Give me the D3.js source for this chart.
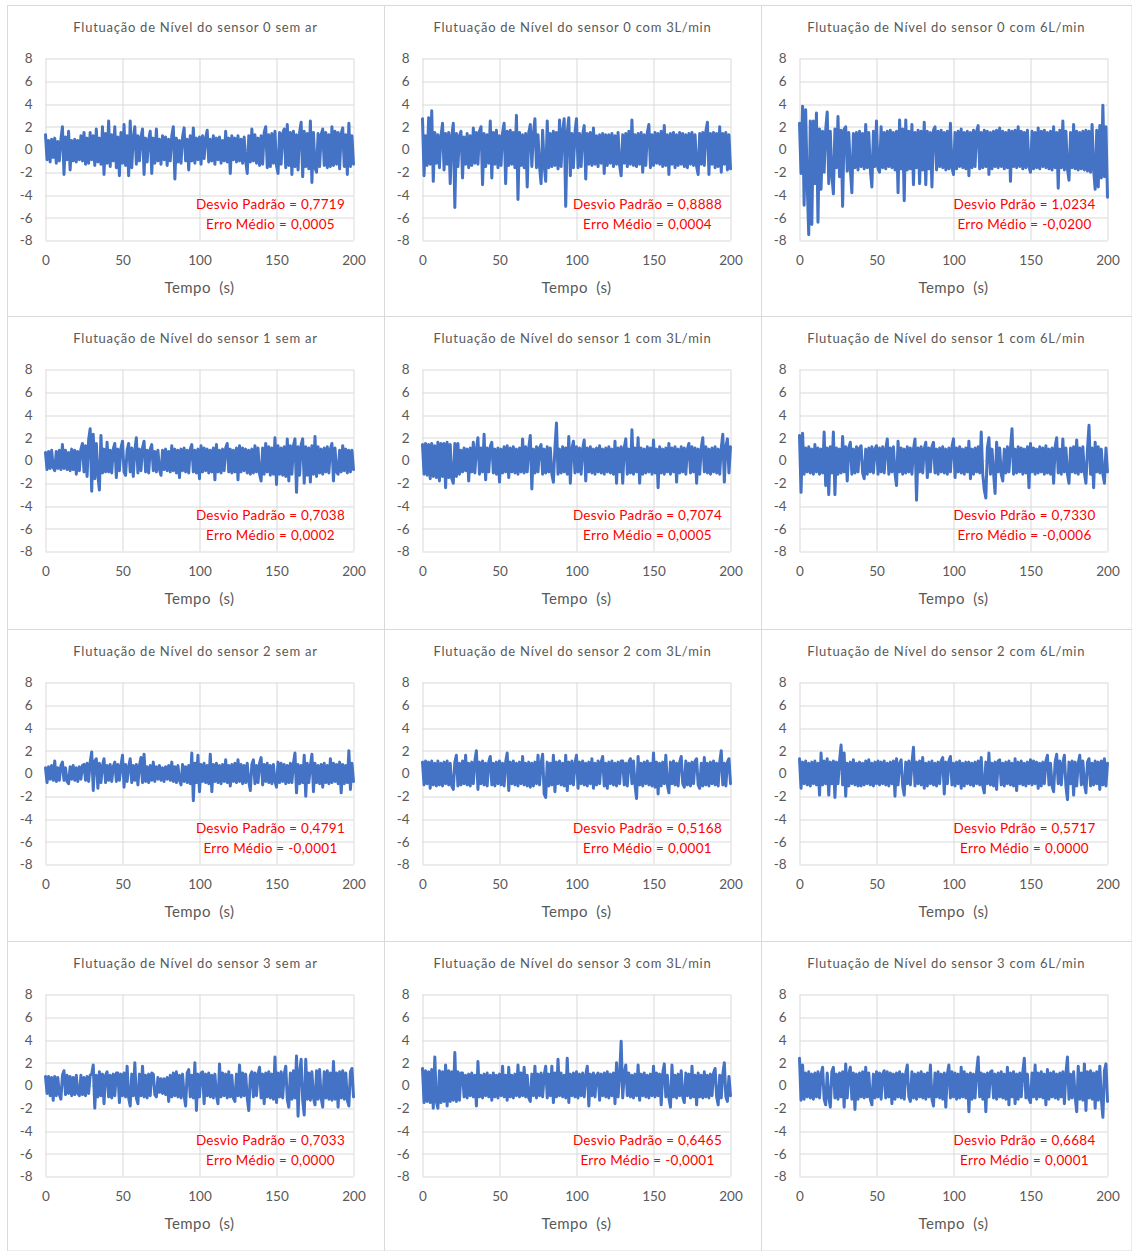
<!DOCTYPE html>
<html>
<head>
<meta charset="utf-8">
<script src="https://cdn.jsdelivr.net/npm/d3@7"></script>
<style>
  body { margin: 0; background: #fff; }
  svg { display: block; }
  text { font-family: Lato, "Open Sans", "Liberation Sans", sans-serif; }
</style>
</head>
<body>
<svg id="chart" width="1132" height="1251"></svg>
<script>
// Panel titles, row by row (sensor 0..3), column by column (sem ar, 3L/min, 6L/min)
const titulos = [
  "Flutuação de Nível do sensor 0 sem ar", "Flutuação de Nível do sensor 0 com 3L/min", "Flutuação de Nível do sensor 0 com 6L/min",
  "Flutuação de Nível do sensor 1 sem ar", "Flutuação de Nível do sensor 1 com 3L/min", "Flutuação de Nível do sensor 1 com 6L/min",
  "Flutuação de Nível do sensor 2 sem ar", "Flutuação de Nível do sensor 2 com 3L/min", "Flutuação de Nível do sensor 2 com 6L/min",
  "Flutuação de Nível do sensor 3 sem ar", "Flutuação de Nível do sensor 3 com 3L/min", "Flutuação de Nível do sensor 3 com 6L/min"
];
const rotulosDesvio = [
  "Desvio Padrão", "Desvio Padrão", "Desvio Pdrão",
  "Desvio Padrão", "Desvio Padrão", "Desvio Pdrão",
  "Desvio Padrão", "Desvio Padrão", "Desvio Pdrão",
  "Desvio Padrão", "Desvio Padrão", "Desvio Pdrão"
];
const desvios = ["0,7719", "0,8888", "1,0234", "0,7038", "0,7074", "0,7330", "0,4791", "0,5168", "0,5717", "0,7033", "0,6465", "0,6684"];
const errosMedios = ["0,0005", "0,0004", "-0,0200", "0,0002", "0,0005", "-0,0006", "-0,0001", "0,0001", "0,0000", "0,0000", "-0,0001", "0,0001"];

const xTicks = [0, 50, 100, 150, 200];
const yTicks = [-8, -6, -4, -2, 0, 2, 4, 6, 8];
const tituloEixoX = "Tempo  (s)";

// Level fluctuation readings, one per second from 0 s to 200 s
const sensor0SemAr = [
  1.3,-0.9,0.8,-1.1,0.9,-0.7,1.0,-1.2,0.7,-1.0,0.9,2.0,-2.2,1.1,-0.9,1.6,-1.8,0.8,-1.0,0.9,
  -1.1,0.8,-0.9,1.2,-1.0,1.5,-1.3,1.0,-1.2,1.5,-0.9,1.2,-1.4,1.8,-1.1,1.0,-1.3,2.0,-2.2,1.4,
  -1.2,2.5,-1.5,1.3,-1.0,2.0,-1.6,1.1,-2.3,1.5,-1.2,2.2,-1.4,1.2,-2.3,2.5,-1.6,1.0,2.0,-1.3,
  1.2,-1.0,1.1,1.8,-2.2,1.0,-1.1,0.9,1.6,-2.1,1.0,-1.2,1.8,-1.0,0.9,-1.3,1.2,-0.9,1.1,-1.4,
  0.9,-1.0,1.2,2.0,-2.6,1.0,-1.1,0.8,-1.2,1.1,1.9,-1.0,0.9,-1.8,1.2,-1.0,1.9,-1.2,1.0,-0.9,
  1.1,-1.3,1.2,-0.8,1.0,1.7,-1.1,0.9,-1.0,1.2,-1.3,1.0,-0.9,1.1,-1.2,0.8,-1.0,1.6,-1.1,1.0,
  -2.1,1.2,-0.9,1.0,-1.1,1.2,-1.0,0.9,-1.2,1.1,-1.0,-2.1,1.2,-1.1,1.8,-1.0,1.3,-1.2,1.0,-1.4,
  1.2,-1.3,1.5,2.0,-1.6,1.3,-1.5,1.4,-1.2,1.6,-1.4,-2.1,1.5,-1.3,1.4,1.8,-1.6,2.2,-1.4,1.5,
  -2.2,1.6,-1.5,1.3,-1.8,1.5,2.4,-2.4,1.6,-1.5,1.4,-1.7,2.5,-2.9,1.5,-1.6,-2.0,1.4,-1.5,1.3,
  1.8,-1.4,1.5,-1.6,1.3,-1.5,2.0,-1.4,1.6,-1.3,1.5,-1.7,1.4,1.9,-1.5,1.3,-2.2,2.3,-1.5,1.2,-1.3
];
const sensor0Com3 = [
  2.7,-2.3,1.2,-1.4,2.8,-1.3,3.4,-2.8,1.5,-1.2,1.3,-1.6,1.2,2.3,-1.8,1.4,-1.3,1.5,-3.0,1.2,
  2.3,-5.1,1.4,-1.5,1.2,1.6,-2.5,1.1,-1.3,1.4,-1.6,1.2,-1.4,1.9,-1.2,1.5,-1.3,1.6,2.0,-3.1,
  1.4,-1.5,1.3,-1.2,2.5,-2.5,1.5,-1.3,1.7,-1.6,1.2,-1.4,1.5,2.3,-3.0,1.6,-1.4,1.7,-1.3,1.5,
  -1.6,3.0,-4.4,1.5,-1.4,1.3,-1.6,1.4,-3.3,1.5,2.2,-1.5,1.4,2.7,-1.6,1.3,-1.5,-3.0,1.7,-1.4,
  -2.8,2.5,-1.6,1.4,-1.5,1.6,-1.4,1.5,-1.7,2.6,-1.5,1.6,2.7,-5.0,1.5,2.8,-2.3,1.4,-1.6,1.5,
  2.7,-1.6,1.4,-1.5,1.3,2.1,-2.6,1.4,-1.3,1.5,-1.4,1.9,-1.3,1.2,-1.5,1.3,-1.2,1.4,-2.1,1.3,
  -1.4,1.3,-1.2,1.4,-1.5,1.2,-1.3,1.5,-1.4,-2.3,1.3,-1.2,1.4,-1.5,1.6,-1.3,2.6,-1.4,1.3,-1.5,
  1.4,-1.3,1.5,-2.0,1.3,-1.4,1.5,2.2,-1.6,1.3,-1.4,1.5,-1.2,1.4,-1.3,1.6,-1.5,2.1,-1.4,1.3,
  -2.2,1.4,-1.3,1.5,-1.6,1.3,-1.4,1.5,-1.3,1.4,-1.5,1.3,-1.6,1.4,-1.3,1.5,-1.4,1.3,-1.5,-2.2,
  1.4,-1.3,1.5,-1.4,1.6,2.4,-2.2,1.4,-1.3,1.5,-1.6,1.4,-1.5,2.0,-2.0,1.4,-1.3,1.5,-1.8,1.3,-1.7
];
const sensor0Com6 = [
  2.3,-2.1,3.8,-4.9,3.5,-3.0,-7.5,2.5,-6.6,2.5,-3.0,3.2,-6.4,1.8,-3.5,1.6,-2.0,1.7,3.3,-3.0,
  1.6,-2.2,-3.9,1.8,-1.6,2.9,-2.4,1.7,-5.0,1.8,2.0,-1.9,1.5,-1.7,-3.8,1.4,-1.6,1.5,-1.8,1.6,
  -1.5,1.4,-1.7,2.2,-1.6,1.5,-1.8,-3.3,1.6,-1.5,2.5,-1.7,-2.0,2.0,-1.6,1.5,-1.7,1.6,-1.5,1.7,
  -1.6,1.5,-1.8,1.6,-3.8,2.6,-1.7,1.8,-4.5,2.6,-1.8,1.6,-1.7,2.2,-3.1,1.5,-1.6,1.7,-3.0,1.6,
  -1.8,2.4,-3.1,1.6,-1.7,1.5,-3.3,1.7,2.0,-1.8,1.6,-1.5,1.7,-1.6,1.5,-1.8,1.6,-1.7,2.3,-1.6,
  -2.2,1.5,-1.7,1.6,-1.5,1.8,-1.6,1.5,-1.7,1.6,-2.3,1.5,-1.6,1.7,-1.5,1.6,2.1,-1.7,1.5,-1.6,
  1.7,-1.5,1.6,-2.2,1.5,-1.7,1.6,-1.5,1.7,-1.6,1.9,-1.5,1.6,-1.7,1.5,-1.6,1.7,-2.8,1.6,-1.5,
  1.7,-1.6,2.0,-1.5,1.6,-1.7,1.5,-1.6,1.7,-1.5,-2.0,1.6,-1.7,1.5,-1.6,1.9,-1.7,1.6,-1.5,1.7,
  -1.6,1.5,-1.7,1.6,-1.8,2.0,-1.6,1.5,-3.4,1.7,-1.6,2.5,-1.8,1.6,-1.7,-2.7,1.5,-1.6,2.2,-1.7,
  1.6,-1.8,1.5,-1.7,1.6,-1.8,1.7,-1.9,1.6,-2.0,2.2,-1.8,-3.5,1.7,-3.3,2.1,-2.5,3.9,-2.4,2.0,-4.2
];
const sensor1SemAr = [
  0.7,-0.8,0.8,-0.7,0.9,-0.6,-0.9,0.8,-0.7,0.9,-0.8,1.4,-0.7,0.9,-0.8,0.7,-0.9,1.0,-0.8,0.9,
  -1.2,0.8,-0.9,1.0,1.5,-1.0,1.3,-1.4,1.8,2.8,-2.7,2.3,-1.6,1.5,-1.3,-2.6,2.2,-1.1,1.0,-1.0,
  1.6,-1.0,0.9,-1.1,1.0,1.5,-1.5,1.0,-0.9,1.1,1.7,-1.0,-1.3,0.9,1.5,-1.0,1.1,-1.4,0.9,2.0,
  -1.1,1.0,-0.9,1.1,1.7,-1.0,0.9,-1.1,1.0,1.4,-0.9,0.8,-1.0,0.9,-0.8,-1.3,0.9,-0.8,1.0,-0.9,
  0.8,-1.0,1.3,-0.9,1.0,-1.1,0.9,-1.5,1.0,-0.9,1.1,-1.0,0.9,-1.1,1.0,1.4,-1.0,0.9,-1.1,1.0,
  -1.6,1.3,-1.0,1.1,-0.9,1.0,-1.1,0.9,-1.0,1.1,-1.7,1.4,-1.0,0.9,-1.1,1.0,-0.9,1.1,1.5,-1.0,
  1.0,-1.1,0.9,-1.0,1.1,-1.7,1.3,-1.0,1.1,-0.9,1.0,-1.1,0.9,-1.2,1.0,-1.1,1.3,-1.0,1.1,-1.2,
  -1.8,1.1,-1.2,1.5,-1.0,1.2,-1.3,1.1,-1.2,2.0,-2.1,1.3,-1.2,1.1,-1.3,1.2,-1.4,1.9,-1.8,1.3,
  -1.2,1.3,1.9,-2.8,1.2,-1.3,1.4,1.9,-2.0,1.2,-1.3,1.1,-1.9,1.3,-1.2,2.1,-1.4,1.2,-1.1,1.0,
  -1.2,1.1,-1.0,1.2,-1.1,1.0,1.5,-1.8,1.1,-1.0,-1.2,0.9,-1.0,1.3,-0.9,1.0,-1.1,0.9,-1.0,0.9,-0.8
];
const sensor1Com3 = [
  1.4,-1.2,1.5,-1.3,1.4,-1.6,1.5,-1.4,1.3,-1.5,1.6,-1.8,1.5,-1.4,1.5,-2.4,1.6,-1.5,1.4,-1.6,
  -2.0,1.5,-1.4,1.5,-1.2,0.9,-1.0,1.1,-0.9,1.0,-1.8,1.1,-1.0,1.6,-1.1,1.0,2.0,-1.2,1.1,-1.0,
  2.3,-1.7,1.1,-1.0,1.2,1.6,-1.1,1.0,-1.2,1.1,-1.9,1.0,-1.1,1.2,-1.0,1.3,-1.5,1.1,-1.0,1.2,
  -1.1,1.0,-1.2,1.1,-1.0,1.9,-1.1,1.2,-1.0,1.1,2.2,-2.5,1.0,-1.1,1.2,-1.0,1.1,1.4,-1.2,1.0,
  -1.1,1.2,-1.0,1.1,-1.2,-1.9,1.1,3.3,-1.2,1.0,-1.1,1.2,-1.0,1.1,-1.2,2.1,-2.0,1.0,1.7,-1.1,
  1.2,-1.0,1.1,-1.2,1.0,1.8,-1.8,1.1,-1.0,1.2,-1.1,1.0,-1.2,1.1,-1.0,1.3,-1.1,1.0,-1.2,1.1,
  -1.0,1.2,-1.1,1.0,-1.2,1.7,-2.0,1.1,-1.0,1.2,-2.0,1.1,1.9,-1.2,1.0,-1.1,2.7,-1.2,1.1,-1.0,
  2.0,-2.0,1.1,-1.2,1.0,-1.1,1.2,-1.0,1.1,-1.2,1.8,-1.1,1.0,-2.4,1.2,-1.1,1.0,-1.2,1.1,-1.0,
  1.5,-1.2,1.1,-1.0,1.2,-1.9,1.0,-1.1,1.2,-1.0,1.1,-1.2,1.0,1.5,-1.1,1.2,-1.0,1.1,-2.0,1.0,
  -1.2,1.1,2.0,-1.0,1.2,-1.1,1.0,-1.2,1.1,-1.0,1.2,-1.1,1.0,-1.2,1.1,2.3,-1.9,1.2,1.9,-1.1,1.2
];
const sensor1Com6 = [
  2.2,-2.8,2.4,-1.2,1.1,-1.0,1.2,-1.1,1.0,-1.2,1.4,-1.0,1.1,-1.2,1.0,-1.1,2.5,-2.2,1.1,-3.0,
  1.2,-1.1,2.5,-3.0,1.1,-1.2,1.0,-1.1,2.1,-1.0,1.2,-1.8,1.1,1.6,-1.2,1.0,-1.1,1.2,-1.0,1.1,
  1.3,-1.1,-1.6,1.0,-1.2,1.1,-1.0,1.2,-1.1,1.0,1.3,-1.2,1.1,-1.0,1.2,-1.1,1.0,1.9,-1.2,1.1,
  -1.0,1.2,-1.1,-2.2,1.7,-1.0,1.1,-1.2,1.0,-1.1,1.2,-1.0,1.1,-1.2,1.0,1.9,-3.5,1.1,-1.0,1.2,
  -1.1,1.0,1.6,-1.5,1.1,-1.0,1.2,1.6,-1.1,1.0,-1.2,1.1,-1.0,1.2,-1.1,1.0,-1.2,1.1,-1.0,1.2,
  1.9,-1.5,1.1,-1.0,1.2,-1.1,1.0,-1.2,1.1,-1.0,1.7,-1.6,1.0,-1.2,1.1,-1.0,1.2,-1.1,2.5,-1.2,
  -2.6,-3.3,1.1,2.0,-1.2,1.0,-1.1,-2.9,1.6,-1.0,1.1,-1.2,-1.8,1.0,-1.1,1.2,-1.0,1.1,2.8,-1.2,
  1.0,-1.1,1.2,-1.0,1.1,-1.2,1.0,-1.1,1.2,-2.4,1.5,-1.0,1.1,-1.2,1.0,-1.1,1.2,-1.0,1.1,-1.2,
  1.3,-1.1,1.0,-1.2,1.1,-2.0,1.2,2.0,-1.1,1.0,-1.2,1.9,-1.0,1.1,-1.2,-2.0,1.1,-1.0,1.2,-1.1,
  1.8,-1.2,1.1,-1.0,1.2,-1.1,-2.0,1.0,3.1,-1.2,1.1,-2.4,1.6,-1.0,1.2,-1.1,1.0,-1.2,-2.0,1.1,-1.0
];
const sensor2SemAr = [
  0.5,-0.8,0.6,-0.5,0.7,-0.6,1.1,-0.7,0.5,-0.6,0.7,1.0,-0.6,0.5,-0.7,-0.9,0.6,-0.5,0.7,-0.6,
  0.5,-0.7,0.6,-0.5,0.7,0.8,-0.6,0.9,-0.7,1.0,1.9,-1.5,1.1,1.3,-1.3,0.9,-0.8,0.7,1.3,-0.8,
  0.7,-0.6,0.8,-0.7,0.6,1.0,-0.7,0.8,-0.6,0.7,1.6,-1.2,0.8,-0.7,0.6,1.3,-0.8,0.7,-0.6,0.8,
  -1.0,0.7,1.4,-0.8,1.7,-0.7,0.6,-0.8,0.7,-0.6,1.0,-0.7,0.6,-0.5,0.7,-0.6,0.5,-0.7,0.6,-0.5,
  0.7,-0.6,1.0,-0.7,0.6,-0.8,0.7,-0.6,-1.0,0.8,-0.7,0.6,-0.8,0.7,-0.9,1.8,-2.4,0.9,-0.8,1.6,
  -1.6,0.8,-0.7,0.9,-0.8,0.7,-0.9,1.7,-1.6,0.8,-0.7,0.9,-0.8,0.7,-0.9,0.8,-0.7,1.2,-0.8,0.7,
  -1.1,0.8,-0.7,0.9,-0.8,1.2,-0.7,0.8,-0.9,0.7,-0.8,0.9,-0.7,-1.5,0.8,1.2,-0.9,0.7,-0.8,0.9,
  1.4,-1.0,0.8,-0.7,0.9,-0.8,0.7,-0.9,0.8,-0.7,-1.2,1.0,-0.8,0.9,-0.7,0.8,-0.9,0.7,-0.8,0.9,
  -0.8,0.9,1.8,-1.7,0.8,-0.9,0.7,-0.8,1.6,-2.0,0.9,-0.8,0.7,1.7,-1.6,0.9,-0.8,0.7,-0.9,0.8,
  -1.2,0.9,-0.8,0.7,-0.9,1.3,-0.8,0.9,-0.7,0.8,-0.9,1.0,-1.7,0.8,-0.9,0.7,-0.8,2.0,-1.4,0.9,-0.7
];
const sensor2Com3 = [
  1.0,-1.0,1.1,-0.9,1.0,-1.3,1.1,-1.0,0.9,-1.1,1.1,-1.0,0.9,-1.1,1.0,-0.9,1.1,-1.0,0.9,-1.1,
  -1.4,1.0,1.6,-1.1,0.9,-1.0,1.1,-0.9,1.6,-1.0,0.9,-1.1,1.0,-0.9,1.1,2.0,-1.4,1.0,-0.9,1.1,
  -1.0,0.9,-1.1,1.0,1.5,-1.0,0.9,-1.1,1.0,-0.9,1.1,-1.0,0.9,-1.1,1.0,1.8,-1.5,1.0,-0.9,1.1,
  -1.0,0.9,-1.1,1.0,-0.9,1.5,-1.0,0.9,-1.1,1.0,-1.2,0.9,-1.1,1.0,-0.9,1.6,-1.0,0.9,1.7,-1.8,
  -2.1,1.0,-1.1,0.9,-1.0,1.6,-1.6,1.0,-0.9,1.1,-1.0,0.9,-1.1,1.6,-1.5,1.0,-0.9,1.1,-1.0,0.9,
  1.6,-1.3,1.0,-0.9,1.1,-1.0,0.9,-1.1,1.0,-0.9,1.3,-1.3,0.9,-1.0,1.1,-0.9,1.0,1.5,-1.1,0.9,
  -1.3,1.0,-0.9,1.1,-1.0,0.9,-1.1,1.0,-0.9,1.1,1.1,-1.0,0.9,-1.1,1.0,1.3,-0.9,1.1,-1.0,-2.2,
  1.5,-1.0,0.9,-1.1,1.0,-0.9,1.1,-1.0,0.9,-1.1,1.8,-1.2,1.0,-1.8,0.9,-1.1,1.0,-0.9,1.6,-1.0,
  -1.7,1.0,-0.9,1.1,-1.0,0.9,-1.1,1.0,1.5,-0.9,-1.2,1.1,-1.0,0.9,-1.1,1.0,-0.9,1.1,1.3,-1.0,
  -1.3,0.9,-1.1,1.4,-1.0,0.9,-1.1,1.0,-0.9,1.1,-1.0,0.9,-1.1,1.0,2.0,-1.0,0.9,-1.1,1.0,1.3,-0.9
];
const sensor2Com6 = [
  1.3,-1.3,1.0,-0.9,1.1,-1.0,0.9,-1.1,1.0,-0.9,1.1,-1.0,0.9,-1.9,1.8,-1.0,1.1,-0.9,1.3,-1.9,
  1.0,-0.9,1.1,-2.1,1.0,-0.9,1.1,2.5,-1.0,1.8,-2.0,0.9,-1.1,1.0,-0.9,1.2,-1.0,0.9,-1.1,1.0,
  -1.1,0.9,-1.0,1.1,-0.9,1.2,-1.0,0.9,-1.1,1.0,-0.9,1.1,-1.0,1.0,-0.9,1.1,-1.0,0.9,-1.1,1.0,
  -0.9,1.1,-2.0,1.3,-1.0,0.9,1.2,-1.1,-1.9,1.0,-0.9,1.1,-1.0,0.9,2.3,-1.1,1.0,-0.9,1.1,-1.0,
  1.4,-1.3,0.9,-1.1,1.0,-0.9,1.1,-1.0,0.9,-1.1,1.0,-0.9,1.1,1.4,-1.8,1.0,-0.9,1.1,1.5,-1.0,
  0.9,-1.1,1.0,-0.9,1.1,-1.3,0.9,-1.1,1.0,-0.9,1.0,-1.0,0.9,-1.1,1.0,-0.9,1.1,-1.0,1.4,-1.1,
  -1.7,1.0,-0.9,1.8,-1.0,0.9,-1.1,1.0,-1.4,1.1,1.2,-1.0,0.9,-1.1,1.0,-0.9,1.1,-1.0,0.9,-1.1,
  1.3,-1.5,1.0,-0.9,1.1,-1.0,0.9,-1.1,1.0,-0.9,1.2,-1.0,1.1,-0.9,1.0,-1.3,0.9,-1.1,1.0,-0.9,
  1.1,1.6,-1.0,0.9,-1.1,-1.6,1.0,1.7,-0.9,1.1,-1.0,0.9,1.6,-1.1,-2.3,1.0,-0.9,1.1,-1.9,1.0,
  -1.1,0.9,1.6,-1.0,1.1,-0.9,-1.7,1.0,1.3,-1.1,0.9,-1.0,1.1,-0.9,1.0,-1.4,1.1,-1.0,1.3,-1.1,0.9
];
const sensor3SemAr = [
  0.8,-0.7,0.8,-0.9,0.7,-1.3,0.8,-0.9,0.7,-0.8,-1.2,0.9,1.3,-0.8,0.9,-0.7,0.8,-0.9,0.7,-0.8,
  0.9,-0.7,-0.9,0.9,-0.8,0.7,-0.9,0.8,-0.7,0.9,1.0,1.8,-2.0,0.9,-1.0,1.2,-0.9,1.0,-1.6,0.9,
  1.2,-1.0,0.9,-1.1,1.0,-0.9,1.1,1.1,-1.5,1.0,-0.9,1.1,-1.0,1.7,-1.1,-1.8,1.0,-0.9,2.0,-1.1,
  -1.6,1.0,-0.9,1.7,-1.0,0.9,-1.1,1.0,-0.9,1.1,1.0,-0.8,-1.0,0.7,-0.6,0.6,-0.7,0.6,-0.8,0.7,
  -1.4,0.9,-1.0,1.1,-0.9,1.2,-1.0,0.9,-1.1,1.0,-0.9,-1.8,1.1,1.4,-1.0,0.9,-1.1,2.0,-2.2,1.0,
  -1.0,1.1,1.2,-1.6,1.0,-0.9,1.1,-1.0,0.9,-1.1,1.0,-0.9,-1.6,1.9,-1.0,1.1,-0.9,1.0,-1.1,1.2,
  -1.0,0.9,-1.1,-1.4,1.0,-0.9,1.8,-1.0,1.1,-0.9,1.0,-1.1,-2.2,0.9,1.2,-1.0,1.1,-0.9,1.0,1.6,
  -1.1,1.0,-1.6,1.1,-1.0,1.2,-1.1,1.0,-1.2,2.5,-1.5,1.1,-1.0,1.2,-1.1,1.0,1.7,-1.2,-1.9,1.1,
  -1.2,1.3,-1.1,2.6,-2.7,1.2,2.3,-1.3,-2.6,2.3,-1.2,1.1,-1.3,1.2,-1.1,-1.7,1.3,-1.2,1.4,-1.1,
  -1.9,1.2,-1.1,1.3,-1.2,1.1,-1.3,2.1,-1.2,1.1,-1.9,1.2,-1.1,1.3,-1.2,1.1,-1.3,-1.8,1.2,1.5,-1.0
];
const sensor3Com3 = [
  1.5,-1.5,1.3,-1.4,1.2,-1.5,1.4,-2.0,2.5,-1.4,-2.0,1.3,-1.5,1.2,-1.4,1.8,-1.8,1.3,-1.4,1.2,
  -1.3,2.9,-1.4,1.2,-1.3,1.1,1.1,-1.0,0.9,-1.1,1.0,-0.9,1.1,-1.0,0.9,-1.8,2.1,-1.0,0.9,-1.1,
  1.0,-0.9,1.1,-1.0,0.9,-1.3,1.1,-1.0,0.9,-1.1,1.0,-0.9,1.7,-1.0,0.9,-1.3,1.6,-1.0,0.9,-1.1,
  1.0,-0.9,1.8,-1.0,1.1,-0.9,1.6,-1.0,0.9,-1.1,-1.4,1.0,-0.9,1.7,-1.1,1.0,-0.9,1.1,-1.0,0.9,
  1.7,-1.1,1.0,-0.9,1.7,-1.5,1.1,-1.0,2.3,-0.9,1.1,-1.0,0.9,-1.1,2.4,-1.5,1.0,-0.9,1.1,-1.0,
  1.2,-1.1,1.0,-0.9,1.1,-1.0,0.9,1.7,-1.8,1.0,-0.9,1.1,-1.0,0.9,1.1,-1.3,1.0,-0.9,1.1,-1.0,
  1.2,-1.1,1.0,-0.9,1.1,-1.6,2.0,-1.0,0.9,3.9,-1.1,1.0,1.8,-0.9,1.1,-1.0,0.9,-1.1,1.0,-0.9,
  1.8,-1.3,1.0,-0.9,1.1,-1.0,0.9,-1.1,1.0,-0.9,1.7,-1.0,1.1,-0.9,1.0,-1.7,1.1,1.9,-1.0,0.9,
  -1.1,-1.9,1.8,-1.0,0.9,-1.1,1.0,-0.9,1.3,-1.0,-1.5,1.1,-0.9,1.0,-1.1,1.7,-1.0,0.9,-1.7,1.1,
  -1.0,0.9,-1.1,1.2,-1.0,0.9,-1.1,1.0,-0.9,1.1,1.5,-1.0,-1.7,0.9,-1.1,1.0,2.0,-1.0,-1.4,0.8,-0.9
];
const sensor3Com6 = [
  2.4,-1.3,1.8,-1.2,1.1,-1.0,1.2,-1.1,1.0,-1.2,1.1,-1.0,1.2,-1.1,1.0,1.6,-1.2,-1.7,1.1,-1.0,
  -1.9,1.2,1.6,-1.1,1.0,-1.2,1.1,-1.0,1.2,-1.9,1.9,-1.1,1.0,1.6,-1.2,1.1,-2.1,1.0,-1.2,1.1,
  -1.0,1.2,-1.1,1.6,-1.0,1.1,-1.2,-1.7,1.0,-1.1,1.2,-1.0,1.1,-1.2,1.0,1.3,-1.1,1.2,-1.0,1.1,
  -1.6,1.0,-1.2,1.1,-1.0,1.2,-1.1,1.0,-1.2,1.1,1.8,-1.0,-1.4,1.2,-1.1,1.0,-1.2,1.1,-1.0,1.2,
  -1.1,1.0,-1.2,1.1,-1.0,1.8,-1.2,-1.8,1.1,-1.0,1.2,-1.1,1.0,-1.2,1.1,-1.9,1.0,1.8,-1.1,1.2,
  -1.0,1.1,-1.2,1.0,-1.1,1.6,-1.0,1.2,-1.1,1.0,-2.3,1.1,-1.2,1.0,-1.1,1.2,2.5,-1.0,1.1,-1.2,
  1.0,-2.3,1.1,-1.0,1.2,1.3,-1.1,1.0,-1.2,1.1,-1.0,1.2,-1.1,1.0,-1.2,1.6,-1.7,1.1,-1.0,1.2,
  -1.6,1.0,-1.2,1.1,-1.0,1.2,2.4,-1.1,1.0,-1.2,-1.5,1.1,-1.0,1.8,-1.2,1.1,-1.0,1.2,-1.1,1.0,
  -1.7,1.4,-1.2,1.1,-1.0,1.2,-1.1,1.0,-1.2,1.1,-1.0,1.2,-1.6,1.1,2.5,-1.2,1.0,-1.1,1.2,-1.0,
  -2.3,1.7,-1.2,1.1,-1.3,1.9,-2.2,1.2,-1.1,1.3,-1.2,1.1,-2.0,1.2,-1.3,1.7,-1.2,-2.8,1.3,1.9,-1.4
];

const series = [
  sensor0SemAr, sensor0Com3, sensor0Com6,
  sensor1SemAr, sensor1Com3, sensor1Com6,
  sensor2SemAr, sensor2Com3, sensor2Com6,
  sensor3SemAr, sensor3Com3, sensor3Com6
];

// ---- layout ----
const svg = d3.select("#chart");
const cellX = [7, 384, 761, 1131.5];
const cellY = [5, 316, 629, 941, 1250.5];
const plotW = 308, plotH = 182;
const gridColor = "#d9d9d9", textColor = "#595959", lineColor = "#4472c4";

series.forEach((valores, k) => {
  const col = k % 3, row = Math.floor(k / 3);
  const x0 = cellX[col], x1 = cellX[col + 1];
  const y0 = cellY[row], y1 = cellY[row + 1];
  const left = x0 + 38.5, top = y0 + 53.5;

  // chart frame
  svg.append("rect")
    .attr("x", x0 + 0.5).attr("y", y0 + 0.5)
    .attr("width", x1 - x0).attr("height", y1 - y0)
    .attr("fill", "none").attr("stroke", gridColor).attr("stroke-width", 1);

  const g = svg.append("g").attr("transform", `translate(${left},${top})`);
  const x = d3.scaleLinear().domain([0, 200]).range([0, plotW]);
  const y = d3.scaleLinear().domain([-8, 8]).range([plotH, 0]);

  // gridlines
  g.append("g").selectAll("line").data(yTicks).join("line")
    .attr("x1", 0).attr("x2", plotW)
    .attr("y1", d => Math.round(y(d)) + 0.5).attr("y2", d => Math.round(y(d)) + 0.5)
    .attr("stroke", gridColor);
  g.append("g").selectAll("line").data(xTicks).join("line")
    .attr("y1", 0).attr("y2", plotH)
    .attr("x1", d => Math.round(x(d)) + 0.5).attr("x2", d => Math.round(x(d)) + 0.5)
    .attr("stroke", gridColor);

  // axes (labels only, Excel style)
  const ax = g.append("g").attr("transform", `translate(0,${plotH})`)
    .call(d3.axisBottom(x).tickValues(xTicks).tickFormat(d => String(d)).tickSize(0).tickPadding(15));
  const ay = g.append("g")
    .call(d3.axisLeft(y).tickValues(yTicks).tickFormat(d => String(d)).tickSize(0).tickPadding(13));
  [ax, ay].forEach(a => {
    a.select(".domain").remove();
    a.selectAll("text").attr("fill", textColor).style("font-size", "13.5px")
      .style("font-family", "Lato, 'Open Sans', sans-serif");
  });

  // signal
  const linha = d3.line().x((d, i) => x(i)).y(d => y(d));
  g.append("path").datum(valores)
    .attr("d", linha)
    .attr("fill", "none").attr("stroke", lineColor)
    .attr("stroke-width", 3).attr("stroke-linejoin", "round").attr("stroke-linecap", "round");

  // title
  svg.append("text")
    .attr("x", (x0 + x1) / 2).attr("y", top - 27)
    .attr("text-anchor", "middle").attr("fill", textColor)
    .style("font-size", "13px").style("letter-spacing", "0.75px")
    .text(titulos[k]);

  // x axis title
  g.append("text")
    .attr("x", plotW / 2).attr("y", plotH + 52)
    .attr("text-anchor", "middle").attr("fill", textColor)
    .style("font-size", "15px").style("letter-spacing", "0.4px").style("white-space", "pre")
    .text(tituloEixoX);

  // statistics
  const stats = g.append("g").attr("fill", "#ff0000").style("font-size", "13.5px")
    .attr("text-anchor", "middle");
  stats.append("text").attr("x", 225).attr("y", 150)
    .style("letter-spacing", "0.3px")
    .text(`${rotulosDesvio[k]} = ${desvios[k]}`);
  stats.append("text").attr("x", 225).attr("y", 170)
    .style("letter-spacing", "0.3px")
    .text(`Erro Médio = ${errosMedios[k]}`);
});
</script>
</body>
</html>
